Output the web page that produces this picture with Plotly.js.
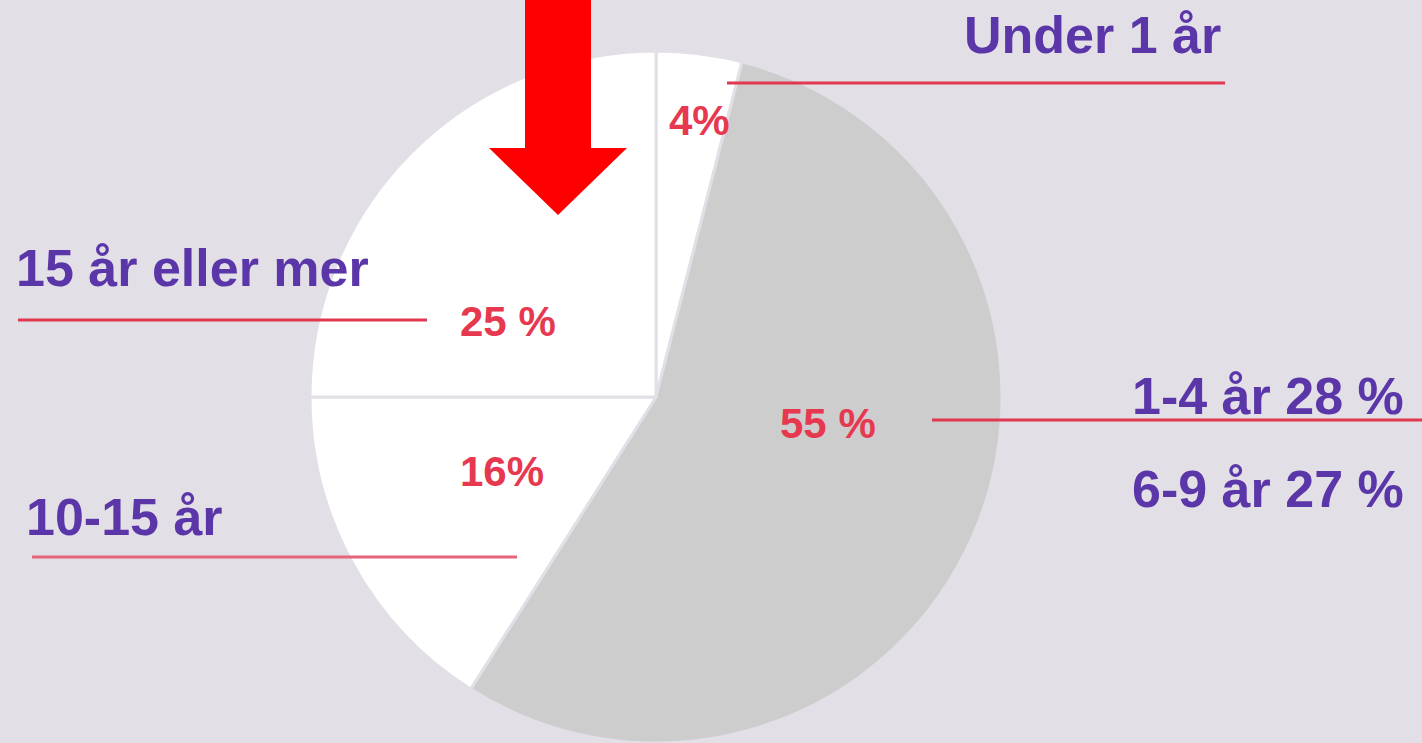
<!DOCTYPE html>
<html>
<head>
<meta charset="utf-8">
<script src="https://cdn.plot.ly/plotly-3.0.1.min.js"></script>
<style>
  html, body { margin: 0; padding: 0; background: #e3dfe6; }
  #chart { width: 1422px; height: 743px; }
</style>
</head>
<body>
<div id="chart"></div>
<script>
// ---- Data ----
const categories = ["Under 1 år", "1-9 år", "10-15 år", "15 år eller mer"];
const values = [4, 55, 16, 25];
const valueLabels = ["4%", "55 %", "16%", "25 %"];
const categoryLabels = ["Under 1 år", "1-4 år 28 %", "6-9 år 27 %", "10-15 år", "15 år eller mer"];
const sliceColors = ["#ffffff", "#cdcdcd", "#ffffff", "#ffffff"];

// ---- Layout helpers ----
const W = 1422, H = 743;
const px = x => x / W;
const py = y => 1 - y / H;

const purple = "#5b36a8";
const red = "#e63950";
const lineRed = "#e0384f";
const font = "Liberation Sans, Arial, sans-serif";

const trace = {
  type: "pie",
  labels: categories,
  values: values,
  sort: false,
  direction: "clockwise",
  rotation: 0,
  textinfo: "none",
  hoverinfo: "label+percent",
  showlegend: false,
  marker: { colors: sliceColors, line: { color: "#e3dfe6", width: 3 } },
  domain: { x: [px(310), px(1002)], y: [0, 692 / H] }
};

function ann(text, x, y, size, color, xanchor) {
  return {
    text: "<b>" + text + "</b>", xref: "paper", yref: "paper",
    x: px(x), y: py(y), xanchor: xanchor || "center", yanchor: "middle",
    showarrow: false, font: { family: font, size: size, color: color }
  };
}

const annotations = [
  ann(categoryLabels[0], 962, 35, 52, purple, "left"),
  ann(categoryLabels[4], 14, 268, 52, purple, "left"),
  ann(categoryLabels[1], 1406, 396, 52, purple, "right"),
  ann(categoryLabels[2], 1406, 489, 52, purple, "right"),
  ann(categoryLabels[3], 24, 517, 52, purple, "left"),
  ann(valueLabels[0], 699, 121, 42, red),
  ann(valueLabels[3], 508, 322, 42, red),
  ann(valueLabels[1], 828, 423, 42, red),
  ann(valueLabels[2], 502, 471, 42, red)
];

function hline(x0, x1, y, color) {
  return { type: "line", xref: "paper", yref: "paper", x0: px(x0), x1: px(x1), y0: py(y), y1: py(y),
           line: { color: color, width: 3 } };
}

const arrowPts = [[525, -5], [591, -5], [591, 148], [627, 148], [558, 215], [489, 148], [525, 148]];
const arrowPath = "M " + arrowPts.map(p => px(p[0]) + "," + py(p[1])).join(" L ") + " Z";

const shapes = [
  hline(727, 1225, 83, lineRed),
  hline(18, 427, 320, lineRed),
  hline(932, 1422, 420, lineRed),
  hline(32, 517, 557, "#e6647a"),
  { type: "path", xref: "paper", yref: "paper", path: arrowPath,
    fillcolor: "#ff0000", line: { width: 0 } }
];

const layout = {
  width: W, height: H,
  margin: { l: 0, r: 0, t: 0, b: 0 },
  paper_bgcolor: "#e3dfe6",
  plot_bgcolor: "#e3dfe6",
  showlegend: false,
  annotations: annotations,
  shapes: shapes
};

Plotly.newPlot("chart", [trace], layout, { displayModeBar: false, staticPlot: true });
</script>
</body>
</html>
